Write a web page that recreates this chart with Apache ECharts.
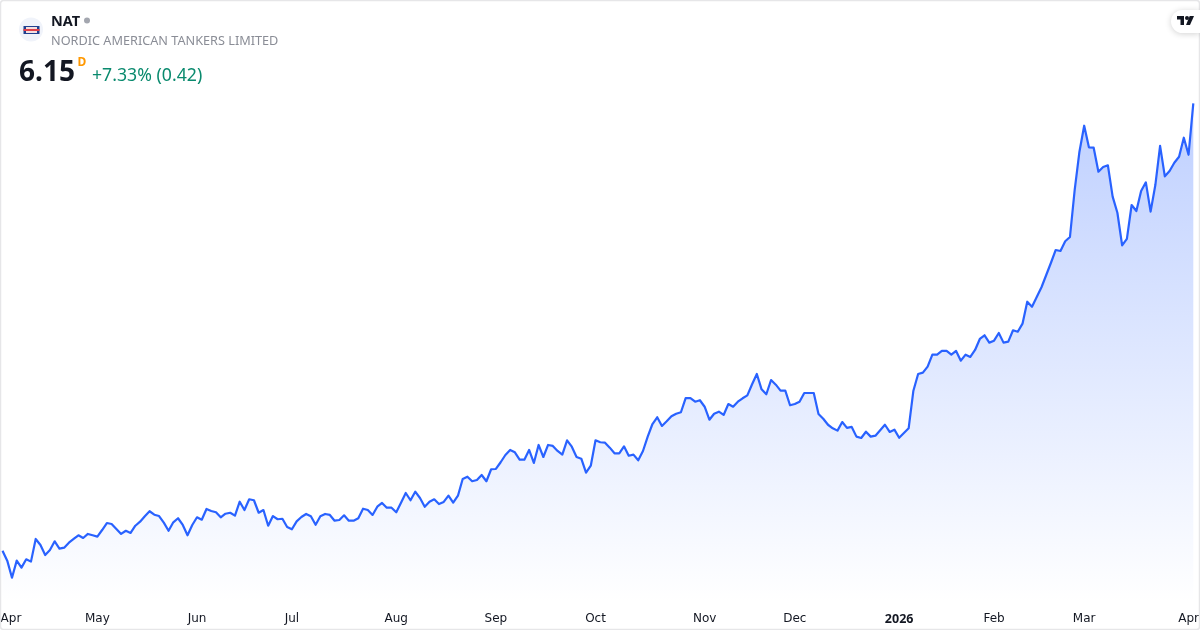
<!DOCTYPE html>
<html><head><meta charset="utf-8">
<style>html,body{margin:0;padding:0;background:#fff}#c{width:1200px;height:630px}</style>
<script src="https://cdn.jsdelivr.net/npm/echarts@6/dist/echarts.min.js"></script>
</head><body><div id="c"></div>
<script>
const prices = [
2.499,2.418,2.279,2.418,2.361,2.429,2.41,2.595,2.546,2.464,2.505,2.576,2.516,2.524,2.565,2.595,2.625,2.603,2.636,2.625,
2.614,2.668,2.725,2.717,2.676,2.636,2.662,2.644,2.703,2.736,2.78,2.821,2.793,2.782,2.728,2.662,2.731,2.764,2.709,2.625,
2.709,2.772,2.752,2.84,2.823,2.813,2.772,2.801,2.809,2.785,2.899,2.831,2.919,2.911,2.809,2.831,2.703,2.782,2.756,2.76,
2.693,2.674,2.739,2.774,2.799,2.78,2.711,2.78,2.799,2.791,2.744,2.75,2.788,2.744,2.744,2.764,2.842,2.831,2.791,2.858,
2.889,2.85,2.85,2.813,2.891,2.97,2.911,2.981,2.929,2.858,2.899,2.919,2.88,2.897,2.948,2.891,2.948,3.084,3.103,3.066,
3.076,3.117,3.066,3.164,3.166,3.221,3.28,3.321,3.302,3.242,3.242,3.321,3.215,3.362,3.264,3.362,3.354,3.313,3.283,3.40,
3.348,3.264,3.25,3.136,3.193,3.40,3.384,3.381,3.34,3.294,3.294,3.351,3.274,3.283,3.237,3.313,3.43,3.533,3.588,3.517,
3.555,3.596,3.617,3.629,3.745,3.745,3.715,3.727,3.674,3.568,3.617,3.634,3.607,3.696,3.674,3.715,3.743,3.767,3.857,3.941,
3.816,3.776,3.892,3.854,3.805,3.805,3.686,3.696,3.715,3.786,3.786,3.786,3.615,3.576,3.527,3.498,3.479,3.549,3.501,3.509,
3.43,3.419,3.47,3.43,3.438,3.482,3.527,3.468,3.487,3.421,3.46,3.498,3.805,3.941,3.952,4.001,4.099,4.099,4.129,4.129,
4.099,4.129,4.05,4.099,4.08,4.137,4.227,4.257,4.197,4.213,4.276,4.197,4.205,4.298,4.286,4.352,4.531,4.49,4.569,4.649,
4.749,4.849,4.953,4.945,5.024,5.059,5.443,5.755,5.967,5.791,5.788,5.592,5.63,5.644,5.388,5.257,4.991,5.043,5.32,5.271,
5.434,5.505,5.266,5.483,5.802,5.554,5.598,5.665,5.714,5.869,5.73,6.15];
const tickIndex  = [0,20,41,61,83,104,125,148,167,189,209,228,250];
const tickLabels = ['Apr','May','Jun','Jul','Aug','Sep','Oct','Nov','Dec','2026','Feb','Mar','Apr'];
const categories = prices.map((_, i) => { const k = tickIndex.indexOf(i); return k >= 0 ? tickLabels[k] : ''; });
const FONT = '"Noto Sans","Open Sans",sans-serif';
const AXFONT = '"DejaVu Sans",sans-serif';
const chart = echarts.init(document.getElementById('c'), null, {renderer:'canvas'});
chart.setOption({
  animation:false,
  backgroundColor:'#fff',
  grid:{left:2.5,right:6.7,top:103.3,height:500,outerBoundsMode:'none'},
  xAxis:{type:'category',boundaryGap:false,data:categories,
    axisLine:{show:false},axisTick:{show:false},splitLine:{show:false},
    axisLabel:{interval:0,hideOverlap:false,margin:10,color:'#131722',fontFamily:AXFONT,fontSize:12,
      formatter:(v,i)=>i===0?'{a|'+v+'}':(v==='2026'?'{b|2026}':v),
      rich:{a:{padding:[0,0,0,17],fontFamily:AXFONT,fontSize:12,color:'#131722'},
            b:{fontWeight:'bold',fontFamily:FONT,fontSize:12.5,color:'#131722'}}}},
  yAxis:{type:'value',min:2.07,max:6.15,show:false,splitLine:{show:false}},
  series:[{type:'line',data:prices,symbol:'none',smooth:false,clip:false,
    lineStyle:{color:'#2962ff',width:2.2,join:'round'},
    areaStyle:{opacity:1,color:{type:'linear',x:0,y:0,x2:0,y2:1,colorStops:[
      {offset:0,color:'rgba(41,98,255,0.3)'},{offset:1,color:'rgba(41,98,255,0)'}]}}}],
  graphic:[
    {type:'rect',shape:{x:0.5,y:0.5,width:1199,height:629,r:3},style:{fill:'none',stroke:'#e6e6e8',lineWidth:1.5},silent:true,z:10},
    {type:'circle',shape:{cx:31,cy:29.5,r:12},style:{fill:'#f0f3fa'},z:10},
    {type:'rect',shape:{x:23.5,y:26,width:16,height:8},style:{fill:'#1f3f8f'},z:11},
    {type:'rect',shape:{x:26,y:27,width:11,height:6},style:{fill:'#f4dfe0'},z:12},
    {type:'rect',shape:{x:23.5,y:29,width:16,height:2},style:{fill:'#e0404a'},z:13},
    {type:'text',x:51,y:22,style:{text:'NAT',font:'bold 14.5px '+FONT,fill:'#131722',textVerticalAlign:'middle'},z:10},
    {type:'circle',shape:{cx:87,cy:20.5,r:3},style:{fill:'#a3a6af'},z:10},
    {type:'text',x:51,y:41,style:{text:'NORDIC AMERICAN TANKERS LIMITED',font:'12.7px '+FONT,fill:'#8a8d96',textVerticalAlign:'middle'},z:10},
    {type:'text',x:19,y:73,style:{text:'6.15',font:'bold 28px '+FONT,fill:'#131722',textVerticalAlign:'middle'},z:10},
    {type:'text',x:77.5,y:62.5,style:{text:'D',font:'bold 12px '+FONT,fill:'#ff9800',textVerticalAlign:'middle'},z:10},
    {type:'text',x:92,y:76,style:{text:'+7.33% (0.42)',font:'17.7px '+FONT,fill:'#0a8a6e',textVerticalAlign:'middle'},z:10},
    {type:'rect',shape:{x:1171,y:10,width:29,height:23,r:[11.5,0,0,11.5]},
      style:{fill:'#fff',shadowBlur:6,shadowColor:'rgba(0,0,0,0.18)',shadowOffsetY:1},z:10},
    {type:'polygon',shape:{points:[[1177,16],[1184,16],[1184,25],[1180.5,25],[1180.5,19.5],[1177,19.5]]},style:{fill:'#131722'},z:11},
    {type:'polygon',shape:{points:[[1189.7,16],[1194,16],[1190,25],[1186,25]]},style:{fill:'#131722'},z:11},
    {type:'circle',shape:{cx:1187,cy:18,r:2},style:{fill:'#131722'},z:11}
  ]
});
</script></body></html>
